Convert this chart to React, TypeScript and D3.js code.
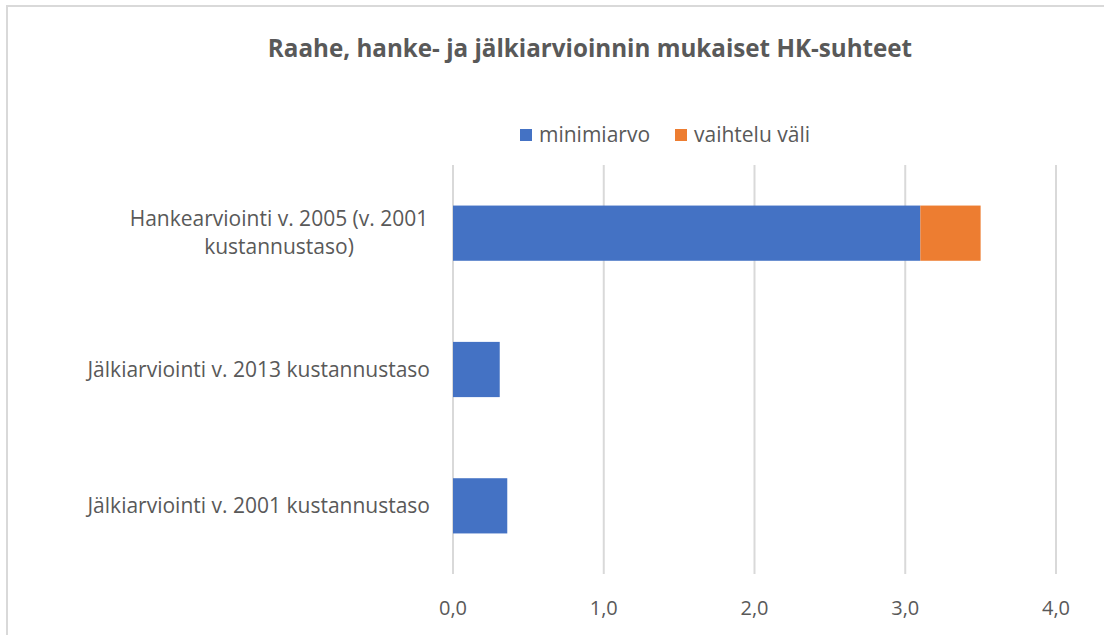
import React from "react";
import * as d3 from "d3";

const title = "Raahe, hanke- ja jälkiarvioinnin mukaiset HK-suhteet";
const categories: string[][] = [
  ["Hankearviointi v. 2005 (v. 2001", "kustannustaso)"],
  ["Jälkiarviointi v. 2013 kustannustaso"],
  ["Jälkiarviointi v. 2001 kustannustaso"],
];
const minimiarvo = [3.1, 0.31, 0.36];
const vaihteluVali = [0.4, 0, 0];
const seriesNames = ["minimiarvo", "vaihtelu väli"];
const seriesColors = ["#4472C4", "#ED7D31"];
const xTicks = [0, 1, 2, 3, 4];

const W = 1104;
const H = 635;
const FONT = "'Open Sans', 'Liberation Sans', Arial, sans-serif";

export default function App() {
  const x = d3.scaleLinear().domain([0, 4]).range([453, 1056]);
  const keys = categories.map((_, i) => String(i));
  const y = d3.scaleBand().domain(keys).range([165, 574]).paddingInner(0.595).paddingOuter(0.2975);
  const fmt = (v: number) => v.toFixed(1).replace(".", ",");
  const stackData = categories.map((_, i) => ({ key: String(i), a: minimiarvo[i], b: vaihteluVali[i] }));
  const stacked = d3.stack<any>().keys(["a", "b"])(stackData);
  const [y0, y1] = y.range();

  return (
    <svg width={W} height={H} style={{ position: "absolute", left: 0, top: 0, background: "#fff" }}>
      <rect x={7} y={6} width={W + 10} height={H + 10} fill="#fff" stroke="#D9D9D9" strokeWidth={2} />
      <text x={590} y={57} textAnchor="middle" fontFamily={FONT} fontWeight="bold" fontSize={24.2} fill="#595959">
        {title}
      </text>
      {/* legend */}
      {seriesNames.map((n, i) => {
        const lx = i === 0 ? 520 : 675;
        return (
          <g key={n}>
            <rect x={lx} y={129} width={12} height={12} fill={seriesColors[i]} />
            <text x={lx + 19} y={142} fontFamily={FONT} fontSize={21} fill="#595959">
              {n}
            </text>
          </g>
        );
      })}
      {/* gridlines */}
      {xTicks.map((t) => (
        <line key={t} x1={x(t)} x2={x(t)} y1={y0} y2={y1} stroke="#D9D9D9" strokeWidth={2} />
      ))}
      {/* bars */}
      {stacked.map((s, si) =>
        s.map((d: any, i: number) =>
          d[1] - d[0] > 0 ? (
            <rect
              key={si + "-" + i}
              x={x(d[0])}
              y={y(keys[i])}
              width={x(d[1]) - x(d[0])}
              height={y.bandwidth()}
              fill={seriesColors[si]}
            />
          ) : null
        )
      )}
      {/* category labels */}
      {categories.map((lines, i) => {
        const cy = (y(keys[i]) as number) + y.bandwidth() / 2;
        if (lines.length === 1) {
          return (
            <text key={i} x={430} y={cy + 7} textAnchor="end" fontFamily={FONT} fontSize={21} fill="#595959">
              {lines[0]}
            </text>
          );
        }
        return (
          <text key={i} x={279} textAnchor="middle" fontFamily={FONT} fontSize={21} fill="#595959">
            {lines.map((l, j) => (
              <tspan key={j} x={279} y={cy + 7 + (j - (lines.length - 1) / 2) * 28}>
                {l}
              </tspan>
            ))}
          </text>
        );
      })}
      {/* x tick labels */}
      {xTicks.map((t) => (
        <text key={t} x={x(t)} y={615} textAnchor="middle" fontFamily={FONT} fontSize={20} fill="#595959">
          {fmt(t)}
        </text>
      ))}
    </svg>
  );
}
